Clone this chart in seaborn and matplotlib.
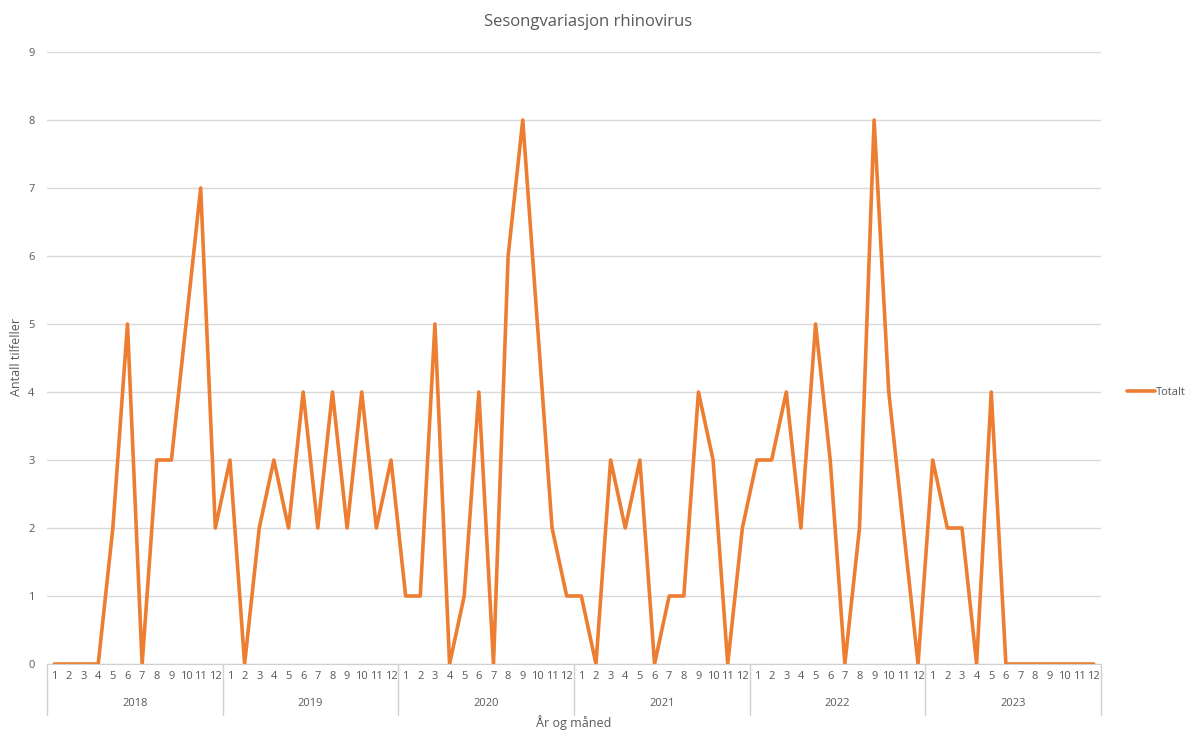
import numpy as np
import pandas as pd
import matplotlib
matplotlib.use('Agg')
import matplotlib.pyplot as plt
import matplotlib.transforms as mtransforms
import seaborn as sns

# data
years = ['2018', '2019', '2020', '2021', '2022', '2023']
months = [str(m) for m in range(1, 13)]
cases_2018 = [0, 0, 0, 0, 2, 5, 0, 3, 3, 5, 7, 2]
cases_2019 = [3, 0, 2, 3, 2, 4, 2, 4, 2, 4, 2, 3]
cases_2020 = [1, 1, 5, 0, 1, 4, 0, 6, 8, 5, 2, 1]
cases_2021 = [1, 0, 3, 2, 3, 0, 1, 1, 4, 3, 0, 2]
cases_2022 = [3, 3, 4, 2, 5, 3, 0, 2, 8, 4, 2, 0]
cases_2023 = [3, 2, 2, 0, 4, 0, 0, 0, 0, 0, 0, 0]
y_ticks = list(range(0, 10))

all_cases = cases_2018 + cases_2019 + cases_2020 + cases_2021 + cases_2022 + cases_2023
df = pd.DataFrame({
    'aar': np.repeat(years, 12),
    'maaned': months * len(years),
    'antall': all_cases,
})
df['pos'] = np.arange(len(df))

sns.set_style('white')
plt.rcParams['font.family'] = ['Open Sans', 'DejaVu Sans']
txt = '#595959'
orange = '#ED7D31'

fig = plt.figure(figsize=(11.92, 7.4), dpi=100)
ax = fig.add_axes([0.0394, 0.1027, 0.8843, 0.827])

sns.lineplot(data=df, x='pos', y='antall', color=orange, linewidth=2.6,
             label='Totalt', ax=ax)

n = len(df)
ax.set_xlim(-0.5, n - 0.5)
ax.set_ylim(0, 9)
ax.set_yticks(y_ticks)
ax.set_yticklabels([str(t) for t in y_ticks], fontsize=8, color=txt)
ax.yaxis.grid(True, color='#d9d9d9', linewidth=1)
ax.set_axisbelow(True)
ax.tick_params(axis='y', length=0, pad=9)

ax.set_xticks(df['pos'])
ax.set_xticklabels(df['maaned'], fontsize=8, color=txt)
ax.tick_params(axis='x', length=0, pad=5)

for s in ['top', 'right', 'left']:
    ax.spines[s].set_visible(False)
ax.spines['bottom'].set_color('#d0d0d0')

# year groups below month labels
trans = mtransforms.blended_transform_factory(ax.transData, ax.transAxes)
for i, yr in enumerate(years):
    centre = df.loc[df['aar'] == yr, 'pos'].mean()
    ax.text(centre, -0.064, yr, transform=trans, ha='center', va='center',
            fontsize=8, color=txt)
for b in np.arange(-0.5, n, 12):
    ax.plot([b, b], [0, -0.084], transform=trans, color='#d0d0d0',
            linewidth=1, clip_on=False)

ax.set_xlabel('')
ax.set_ylabel('')
ax.text(0.5, -0.095, 'År og måned', transform=ax.transAxes, ha='center',
        va='center', fontsize=9, color=txt)
fig.text(0.0135, 0.518, 'Antall tilfeller', rotation=90, ha='center',
         va='center', fontsize=9, color=txt)
fig.text(0.493, 0.97, 'Sesongvariasjon rhinovirus', ha='center',
         va='center', fontsize=12, color=txt)

leg = ax.legend(loc='center left', bbox_to_anchor=(1.015, 0.444),
                frameon=False, fontsize=8, handlelength=2.5, handletextpad=0.1)
for t in leg.get_texts():
    t.set_color(txt)

fig.savefig('out.png', dpi=100, facecolor='white')
